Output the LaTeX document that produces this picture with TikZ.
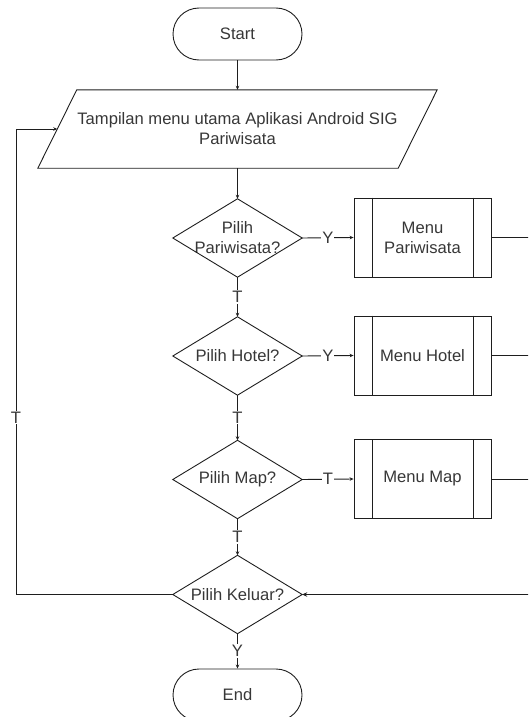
\documentclass[tikz,border=0pt]{standalone}
\usepackage{fontspec}
\setmainfont{Liberation Sans}
\usetikzlibrary{arrows.meta,shapes.misc}
\definecolor{ink}{RGB}{30,30,30}
\definecolor{txt}{RGB}{55,55,55}
\begin{document}
\begin{tikzpicture}[x=1pt,y=-1pt,
  every node/.style={font=\fontsize{16.6}{20}\selectfont, text=txt},
  terminal/.style={rounded rectangle, draw=ink, line width=0.9pt,
    minimum width=129pt, minimum height=52pt, inner sep=0pt},
  ioframe/.style={rectangle, minimum width=360pt, minimum height=78pt,
    inner sep=0pt, align=center},
  decision/.style={rectangle, minimum width=129pt, minimum height=78pt,
    inner sep=0pt, align=center},
  subproc/.style={rectangle, draw=ink, line width=0.9pt,
    minimum width=137pt, minimum height=79pt, inner sep=0pt, align=center},
  outline/.style={draw=ink, line width=0.9pt},
  flow/.style={draw=ink, line width=0.9pt, -{Stealth[length=4pt,width=3.5pt]}},
  back/.style={draw=ink, line width=1.8pt, -{Stealth[length=5pt,width=4.5pt]}},
  lbl/.style={fill=white, inner sep=1pt}
]
\useasboundingbox (0,0) rectangle (528,717);
\clip (0,0) rectangle (528,717);

% main column
\node[terminal] (st) at (237.5,34) {Start};
\node[ioframe] (inp) at (237.5,129) {Tampilan menu utama Aplikasi Android SIG\\Pariwisata};
\node[decision] (d1) at (237.5,238) {Pilih\\Pariwisata?};
\node[decision] (d2) at (237.5,356) {Pilih Hotel?};
\node[decision] (d3) at (237.5,479.5) {Pilih Map?};
\node[decision] (d4) at (237.5,594.5) {Pilih Keluar?};
\node[terminal] (en) at (237.5,695) {End};

% sub-processes
\node[subproc] (m1) at (422.5,237.5) {Menu\\Pariwisata};
\node[subproc] (m2) at (422.5,355.5) {Menu Hotel};
\node[subproc] (m3) at (422.5,479) {Menu Map};

% input/output parallelogram
\draw[outline] ([xshift=19.5pt]inp.north west) -- ([xshift=19.5pt]inp.north east)
  -- ([xshift=-19.5pt]inp.south east) -- ([xshift=-19.5pt]inp.south west) -- cycle;

% decision diamonds
\foreach \d in {d1,d2,d3,d4}
  \draw[outline] (\d.north) -- (\d.east) -- (\d.south) -- (\d.west) -- cycle;

% predefined-process side bars
\foreach \m in {m1,m2,m3} {
  \draw[outline] ([xshift=18.5pt]\m.north west) -- ([xshift=18.5pt]\m.south west);
  \draw[outline] ([xshift=-18.5pt]\m.north east) -- ([xshift=-18.5pt]\m.south east);
}

% routing points
\coordinate (lb) at (16,594.5);
\coordinate (lt) at (16,129);
\coordinate (rb) at (545,594.5);

% connectors
\draw[flow] (st.south) -- (inp.north);
\draw[flow] (inp.south) -- (d1.north);
\draw[flow] (d1.east) -- node[lbl]{Y} (m1.west);
\draw[flow] (d1.south) -- node[lbl]{T} (d2.north);
\draw[flow] (d2.east) -- node[lbl]{Y} (m2.west);
\draw[flow] (d2.south) -- node[lbl]{T} (d3.north);
\draw[flow] (d3.east) -- node[lbl]{T} (m3.west);
\draw[flow] (d3.south) -- node[lbl]{T} (d4.north);
\draw[flow] (d4.south) -- node[lbl]{Y} (en.north);
\draw[flow] (d4.west) -- (lb) -- node[lbl,pos=0.38]{T} (lt) -- (inp.west);
\foreach \m in {m1,m2,m3}
  \draw[outline] (\m.east) -| (rb);
\draw[back] (rb) -- (d4.east);
\end{tikzpicture}
\end{document}
